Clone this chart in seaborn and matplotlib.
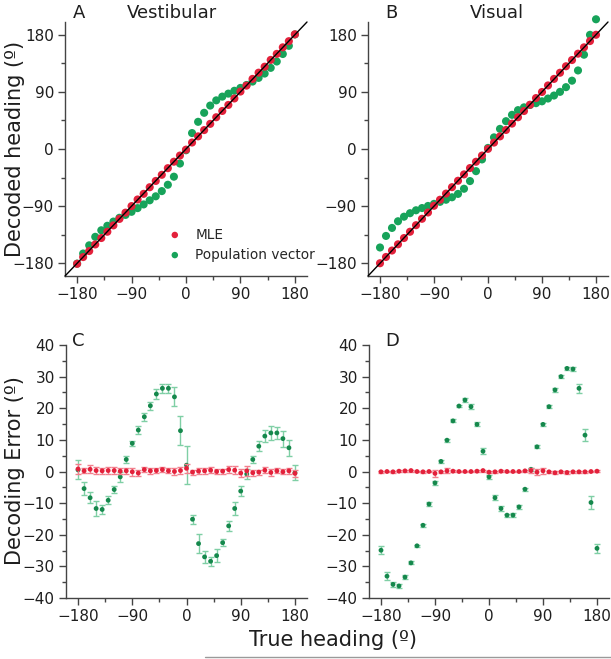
import numpy as np
import matplotlib
matplotlib.use("Agg")
import matplotlib.pyplot as plt
import seaborn as sns
from matplotlib.ticker import MultipleLocator
from matplotlib.lines import Line2D

# true heading (deg), one point every 10 deg
heading = np.arange(-180, 190, 10)

# panel A: vestibular decoded heading
vest_mle = [-180.8, -170.2, -160.7, -150.3, -140.2, -130.3, -120.3, -110.1, -100.2, -89.9,
            -79.5, -70.6, -60.2, -50.3, -40.6, -30.2, -20.0, -10.3, -1.0, 10.2,
            19.9, 29.8, 39.6, 50.0, 59.9, 69.4, 79.6, 90.5, 99.8, 110.4,
            120.2, 129.6, 140.3, 149.8, 160.1, 169.8, 180.6]
vest_pv = [-180.5, -164.6, -151.7, -138.3, -128.0, -120.9, -114.3, -108.3, -103.8, -98.9,
           -93.1, -87.3, -80.8, -74.5, -66.3, -56.3, -43.6, -22.9, -2.0, 25.1,
           42.8, 57.0, 68.4, 76.6, 82.5, 87.2, 91.7, 96.2, 100.8, 106.2,
           112.0, 118.8, 127.8, 137.8, 149.6, 162.5, 180.4]

# panel B: visual decoded heading
vis_mle = [-179.9, -170.0, -159.9, -150.1, -140.2, -130.3, -120.0, -109.9, -100.0, -89.4,
           -79.9, -70.2, -60.1, -50.0, -40.0, -30.0, -20.1, -10.3, 0.2, 10.1,
           19.9, 30.0, 40.0, 50.0, 59.8, 69.7, 80.2, 89.8, 100.1, 110.4,
           120.1, 130.3, 140.1, 150.1, 160.1, 170.0, 179.9]
vis_pv = [-155.1, -136.9, -124.3, -113.8, -106.6, -101.1, -96.5, -93.0, -89.7, -86.4,
          -83.2, -79.9, -76.0, -70.7, -62.6, -50.5, -34.9, -16.4, 1.7, 18.3,
          31.7, 43.8, 53.8, 61.2, 65.6, 69.3, 72.2, 75.1, 79.5, 84.2,
          90.0, 97.4, 107.6, 123.7, 148.5, 179.8, 204.3]

# panel C: vestibular decoding error and error bars
vest_err_mle = [0.8, 0.2, 0.7, 0.3, 0.2, 0.3, 0.3, 0.1, 0.2, -0.1,
                -0.5, 0.6, 0.2, 0.3, 0.6, 0.2, 0.0, 0.3, 1.0, -0.2,
                0.1, 0.2, 0.4, 0.0, 0.1, 0.6, 0.4, -0.5, 0.2, -0.4,
                -0.2, 0.4, -0.3, 0.2, -0.1, 0.2, -0.6]
vest_sem_mle = [1.5, 0.8, 1.2, 1.0, 1.0, 1.2, 1.2, 1.0, 1.0, 1.2,
                1.0, 0.8, 1.0, 0.8, 0.9, 0.8, 1.0, 1.0, 1.5, 0.8,
                1.0, 1.0, 1.0, 0.9, 0.8, 1.0, 1.2, 1.2, 1.5, 1.0,
                0.8, 1.0, 1.2, 0.8, 0.8, 1.0, 1.2]
vest_err_pv = [0.5, -5.4, -8.3, -11.7, -12.0, -9.1, -5.7, -1.7, 3.8, 8.9,
               13.1, 17.3, 20.8, 24.5, 26.3, 26.3, 23.6, 12.9, 2.0, -15.1,
               -22.8, -27.0, -28.4, -26.6, -22.5, -17.2, -11.7, -6.2, -0.8, 3.8,
               8.0, 11.2, 12.2, 12.2, 10.4, 7.5, -0.4]
vest_sem_pv = [3.0, 2.0, 1.8, 2.5, 1.5, 1.2, 1.2, 1.5, 1.2, 0.8,
               1.2, 1.3, 1.2, 1.5, 1.5, 1.5, 3.0, 4.5, 6.0, 1.5,
               3.0, 2.0, 1.5, 2.0, 1.2, 1.5, 2.0, 1.5, 1.5, 1.2,
               1.5, 2.0, 2.2, 2.0, 2.5, 2.5, 2.3]

# panel D: visual decoding error and error bars
vis_err_mle = [-0.1, 0.0, -0.1, 0.1, 0.2, 0.3, 0.0, -0.1, 0.0, -0.6,
               -0.1, 0.2, 0.1, 0.0, 0.0, 0.0, 0.1, 0.3, -0.2, -0.1,
               0.1, 0.0, 0.0, 0.0, 0.2, 0.3, -0.2, 0.2, -0.1, -0.4,
               -0.1, -0.3, -0.1, -0.1, -0.1, 0.0, 0.1]
vis_sem_mle = [0.3, 0.3, 0.3, 0.3, 0.4, 0.3, 0.3, 0.3, 0.3, 1.2,
               0.3, 0.8, 0.3, 0.3, 0.3, 0.3, 0.3, 0.3, 0.3, 0.3,
               0.3, 0.3, 0.3, 0.3, 0.3, 0.8, 1.0, 1.0, 0.3, 0.5,
               0.3, 0.4, 0.3, 0.3, 0.3, 0.3, 0.3]
vis_err_pv = [-24.9, -33.1, -35.7, -36.2, -33.4, -28.9, -23.5, -17.0, -10.3, -3.6,
              3.2, 9.9, 16.0, 20.7, 22.6, 20.5, 14.9, 6.4, -1.7, -8.3,
              -11.7, -13.8, -13.8, -11.2, -5.6, 0.7, 7.8, 14.9, 20.5, 25.8,
              30.0, 32.6, 32.4, 26.3, 11.5, -9.8, -24.3]
vis_sem_pv = [1.2, 1.2, 0.8, 0.6, 0.6, 0.5, 0.4, 0.5, 0.6, 0.6,
              0.4, 0.5, 0.5, 0.4, 0.5, 0.7, 0.6, 1.0, 0.6, 0.8,
              0.7, 0.5, 0.6, 0.7, 0.5, 0.5, 0.5, 0.5, 0.5, 0.6,
              0.5, 0.6, 0.6, 1.4, 1.8, 1.9, 1.4]

RED = "#e3213b"
GREEN = "#17a35a"
DKGREEN = "#15884c"
LTGREEN = "#7fcfa5"
LTRED = "#f2808e"
INK = "#1e1e1e"
SPINE = "#444444"

sns.set_theme(style="ticks")
plt.rcParams["font.family"] = ["DejaVu Sans"]
plt.rcParams["axes.edgecolor"] = SPINE
plt.rcParams["xtick.color"] = SPINE
plt.rcParams["ytick.color"] = SPINE
plt.rcParams["xtick.labelcolor"] = INK
plt.rcParams["ytick.labelcolor"] = INK

W, H = 611, 659
fig = plt.figure(figsize=(W / 100, H / 100), dpi=100)


def box(left, top, w, h):
    return [left / W, 1 - (top + h) / H, w / W, h / H]


axA = fig.add_axes(box(65, 22, 242, 254))
axB = fig.add_axes(box(368, 22, 240, 254))
axC = fig.add_axes(box(66, 345, 241, 253))
axD = fig.add_axes(box(369, 345, 240, 253))


def style(ax, ymajor, yminor):
    sns.despine(ax=ax)
    ax.set_xlim(-200, 200)
    ax.xaxis.set_major_locator(MultipleLocator(90))
    ax.xaxis.set_minor_locator(MultipleLocator(45))
    ax.yaxis.set_major_locator(MultipleLocator(ymajor))
    ax.yaxis.set_minor_locator(MultipleLocator(yminor))
    ax.tick_params(which="major", length=5, width=1, labelsize=11, pad=3)
    ax.tick_params(which="minor", length=3, width=1)
    for s in ax.spines.values():
        s.set_linewidth(1)
    ax.set_xlabel("")
    ax.set_ylabel("")
    ax.grid(False)


# top row
for ax, mle, pv in [(axA, vest_mle, vest_pv), (axB, vis_mle, vis_pv)]:
    sns.scatterplot(x=heading, y=pv, ax=ax, color=GREEN, s=34, edgecolor="none",
                    label="Population vector", zorder=2, clip_on=False)
    sns.scatterplot(x=heading, y=mle, ax=ax, color=RED, s=34, edgecolor="none",
                    label="MLE", zorder=3, clip_on=False)
    ax.plot([-200, 200], [-200, 200], color="black", lw=1.0, zorder=4, clip_on=False)
    ax.set_ylim(-200, 200)
    style(ax, 90, 45)
    ax.set_yticks([-180, -90, 0, 90, 180])
    ax.set_xticks([-180, -90, 0, 90, 180])

h, l = axA.get_legend_handles_labels()
axA.legend(h[1::-1], l[1::-1], loc="lower left", bbox_to_anchor=(0.375, 0.035), frameon=False,
           fontsize=9.8, handletextpad=0.5, labelspacing=0.45, borderaxespad=0,
           markerscale=0.8)
axB.get_legend().remove()

# bottom row
for ax, em, sm, ep, sp in [(axC, vest_err_mle, vest_sem_mle, vest_err_pv, vest_sem_pv),
                           (axD, vis_err_mle, vis_sem_mle, vis_err_pv, vis_sem_pv)]:
    ax.errorbar(heading, ep, yerr=sp, fmt="none", ecolor=LTGREEN, elinewidth=1,
                capsize=2.3, capthick=1, zorder=2)
    sns.scatterplot(x=heading, y=ep, ax=ax, color=DKGREEN, s=12, edgecolor="none", zorder=3)
    ax.errorbar(heading, em, yerr=sm, fmt="none", ecolor=LTRED, elinewidth=1,
                capsize=2.3, capthick=1, zorder=4)
    sns.scatterplot(x=heading, y=em, ax=ax, color=RED, s=12, edgecolor="none", zorder=5)
    ax.set_ylim(-40, 40)
    style(ax, 10, 5)
    ax.set_xticks([-180, -90, 0, 90, 180])

# panel letters and titles
fig.text(73 / W, 1 - 18 / H, "A", fontsize=13, color=INK)
fig.text(127 / W, 1 - 18 / H, "Vestibular", fontsize=13, color=INK)
fig.text(385 / W, 1 - 18 / H, "B", fontsize=13, color=INK)
fig.text(470 / W, 1 - 18 / H, "Visual", fontsize=13, color=INK)
fig.text(72 / W, 1 - 346 / H, "C", fontsize=13, color=INK)
fig.text(385 / W, 1 - 346 / H, "D", fontsize=13, color=INK)

fig.text(15 / W, 1 - 149 / H, "Decoded heading (\u00ba)", rotation=90, fontsize=15,
         ha="center", va="center", color=INK)
fig.text(15 / W, 1 - 471 / H, "Decoding Error (\u00ba)", rotation=90, fontsize=15,
         ha="center", va="center", color=INK)
fig.text(333 / W, 1 - 640 / H, "True heading (\u00ba)", fontsize=15,
         ha="center", va="center", color=INK)
fig.add_artist(Line2D([205 / W, 1], [1 - 657 / H, 1 - 657 / H], color="#9a9a9a", lw=1))

fig.savefig("out.png", dpi=100)
